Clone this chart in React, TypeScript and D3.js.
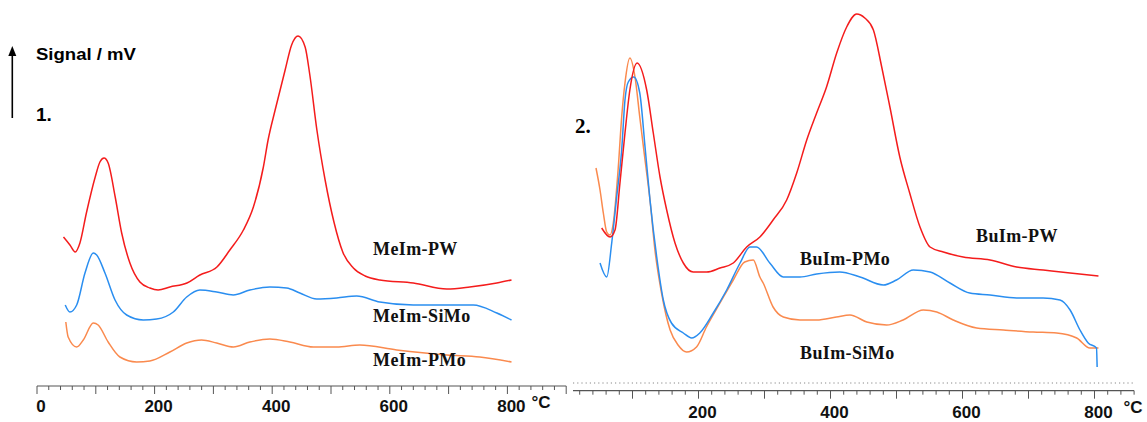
import React from "react";
import * as d3 from "d3";

// Panel 1 (MeIm) — temperature °C / signal (arbitrary mV, offset traces)
const meImPW_T = [45, 56, 65, 73, 84, 99, 107, 114, 121, 133, 144, 158, 175, 192, 206, 226, 255, 277, 306, 328, 351, 368, 385, 393, 405, 422, 433, 444, 456, 464, 476, 490, 505, 520, 538, 558, 583, 640, 697, 736, 782, 807];
const meImPW_S = [15.3, 14.5, 13.8, 14.7, 17.7, 21.3, 22.8, 23.2, 22.7, 19.3, 15.7, 12.7, 10.8, 10.2, 10.0, 10.3, 10.7, 11.5, 12.3, 14.0, 16.0, 18.3, 22.3, 25.0, 28.0, 32.0, 34.5, 35.4, 34.3, 31.5, 26.0, 21.0, 16.8, 13.8, 12.2, 11.4, 11.0, 10.7, 10.1, 10.3, 10.7, 11.0];
const meImSiMo_T = [48, 56, 67.5, 81.6, 95.8, 101.5, 115.6, 132.7, 152.5, 180.8, 203.5, 231.8, 254.6, 277, 305.6, 333.8, 362, 396, 424.6, 447, 475.7, 509.7, 543.7, 583, 640, 697, 742, 782, 807];
const meImSiMo_S = [8.5, 7.8, 8.5, 11.7, 13.7, 13.5, 11.7, 9.0, 7.5, 7.0, 7.1, 7.8, 9.3, 10.0, 9.8, 9.5, 10.0, 10.3, 10.2, 9.7, 9.1, 9.2, 9.4, 8.8, 8.5, 8.5, 8.5, 7.7, 7.0];
const meImPMo_T = [49, 53, 67.5, 78.7, 95.8, 104, 121, 141, 169.5, 192, 226, 254.6, 280, 305.6, 334, 362, 396, 430, 470, 509.7, 549, 611.7, 697, 753, 807];
const meImPMo_S = [6.8, 5.3, 4.3, 5.0, 6.7, 6.5, 4.8, 3.3, 2.8, 2.9, 3.8, 4.7, 5.0, 4.7, 4.3, 4.8, 5.1, 4.8, 4.3, 4.3, 4.5, 4.0, 3.5, 3.3, 2.8];

// Panel 2 (BuIm)
const buImPW_T = [53.3, 66, 73.5, 81, 88.6, 96, 107, 121.5, 131.5, 141.7, 151.8, 164.4, 177, 192, 212.4, 232.6, 252.7, 273, 293, 313, 333.6, 348.8, 364, 379, 394, 409.4, 424.5, 439.7, 452, 465, 477.6, 490, 505, 520, 535.6, 550.8, 571, 601, 641.7, 682, 722.4, 763, 806];
const buImPW_S = [16.2, 15.3, 16.0, 20.7, 25.7, 30.0, 32.7, 30.0, 25.7, 21.3, 18.0, 14.7, 12.7, 11.8, 11.8, 12.2, 12.7, 14.3, 15.3, 17.0, 19.0, 21.7, 25.0, 27.7, 30.3, 33.7, 36.3, 37.6, 37.2, 36.0, 32.3, 28.3, 23.3, 19.7, 16.3, 14.3, 13.8, 13.3, 13.0, 12.3, 12.0, 11.7, 11.4];
const buImPMo_T = [50.8, 61, 68.5, 76, 83.6, 88.6, 93.6, 102, 111, 119, 126.5, 136.7, 146.7, 159, 177, 189.7, 202, 222.4, 242.7, 263, 278, 288, 308, 328.5, 353.8, 379, 414, 444.7, 480, 500, 525.5, 550.8, 581, 611, 641.7, 682, 722, 747.7, 763, 778, 790.5, 803, 804];
const buImPMo_S = [12.7, 11.3, 14.7, 19.3, 24.0, 29.0, 30.8, 31.3, 29.7, 24.3, 19.0, 13.3, 9.0, 6.7, 5.7, 5.2, 5.7, 7.7, 10.0, 12.7, 14.3, 14.3, 12.7, 11.3, 11.3, 11.6, 11.8, 11.3, 10.5, 11.0, 12.0, 11.8, 10.7, 9.7, 9.5, 9.2, 9.2, 9.0, 8.0, 6.0, 4.7, 4.2, 2.3];
const buImSiMo_T = [44.7, 50.8, 55.8, 60.9, 65.9, 70.9, 78.5, 83.6, 88.6, 96, 103.8, 111, 119, 126.5, 134, 144, 157, 169, 182, 197, 212, 232.6, 252.7, 270, 283, 293, 298, 313, 328.5, 353.8, 379, 409, 429.5, 455, 485, 510, 540.6, 561, 586, 621.5, 662, 707, 742.7, 773, 793, 806];
const buImSiMo_S = [22.2, 20.0, 17.7, 15.8, 15.5, 16.7, 22.3, 27.3, 30.7, 33.2, 31.3, 27.3, 23.0, 19.0, 14.0, 9.7, 6.0, 4.5, 3.8, 4.3, 6.3, 8.7, 11.0, 12.8, 13.0, 11.3, 10.7, 8.3, 7.3, 7.0, 7.0, 7.3, 7.5, 6.8, 6.5, 7.0, 8.0, 7.8, 7.0, 6.2, 6.0, 5.8, 5.7, 5.2, 4.2, 4.2];

const axis1Labels = ["0", "200", "400", "600", "800"];
const axis2Labels = ["200", "400", "600", "800"];

const RED = "#f41c1c";
const BLUE = "#2a8ef0";
const ORANGE = "#fa8a4e";

const x1 = d3.scaleLinear().domain([0, 900]).range([37, 566.2]);
const x2 = d3.scaleLinear().domain([0, 800]).range([566.5, 1094.5]);
const y = d3.scaleLinear().domain([0, 38]).range([390, 10]);

function path(xs: d3.ScaleLinear<number, number>, T: number[], S: number[]) {
  const line = d3
    .line<number>()
    .x((_, i) => xs(T[i]))
    .y((_, i) => y(S[i]))
    .curve(d3.curveMonotoneX);
  return line(T) || "";
}

const sans = "'Liberation Sans', Arial, sans-serif";
const serif = "'Liberation Serif', 'Times New Roman', serif";

export default function App() {
  const ticks1 = d3.range(0, 901, 20);
  const ticks2 = d3.range(20, 861, 20);
  const axisY1 = 386;
  const axisY2 = 390.7;
  return (
    <svg width={1147} height={422} style={{ position: "absolute", left: 0, top: 0, background: "#fff" }}>
      {/* y arrow */}
      <line x1={12.3} y1={55} x2={12.3} y2={118} stroke="#000" strokeWidth={1.6} />
      <path d="M12.3,46 L8.3,56 L16.3,56 Z" fill="#000" />
      <text x={36} y={60} fontFamily={sans} fontWeight="bold" fontSize={17} textLength={100} lengthAdjust="spacingAndGlyphs">Signal / mV</text>
      <text x={36} y={121} fontFamily={sans} fontWeight="bold" fontSize={19}>1.</text>
      <text x={575} y={133} fontFamily={serif} fontWeight="bold" fontSize={21}>2.</text>

      {/* Left axis */}
      <line x1={x1(0)} x2={x1(900)} y1={axisY1} y2={axisY1} stroke="#555" strokeWidth={1.2} />
      {ticks1.map((t) => (
        <line key={t} x1={x1(t)} x2={x1(t)} y1={axisY1} y2={axisY1 + (t % 100 === 0 ? 8 : 4)} stroke="#555" strokeWidth={1} />
      ))}
      {axis1Labels.map((l) => (
        <text key={l} x={x1(+l) + 4} y={412} textAnchor="middle" fontFamily={sans} fontWeight="bold" fontSize={17} fill="#111">{l}</text>
      ))}
      <text x={531.5} y={408} fontFamily={sans} fontWeight="bold" fontSize={17} fill="#111">°C</text>

      {/* Right axis */}
      <line x1={573} x2={1134} y1={383} y2={383} stroke="#888" strokeWidth={1} strokeDasharray="1.2,3" />
      <line x1={573} x2={x2(860)} y1={axisY2} y2={axisY2} stroke="#555" strokeWidth={1.2} />
      {ticks2.map((t) => (
        <line key={t} x1={x2(t)} x2={x2(t)} y1={axisY2} y2={axisY2 + (t % 100 === 0 ? 8 : 4)} stroke="#555" strokeWidth={1} />
      ))}
      {axis2Labels.map((l) => (
        <text key={l} x={x2(+l) + 4} y={418} textAnchor="middle" fontFamily={sans} fontWeight="bold" fontSize={17} fill="#111">{l}</text>
      ))}
      <text x={1123.5} y={413} fontFamily={sans} fontWeight="bold" fontSize={17} fill="#111">°C</text>

      {/* Curves */}
      <g fill="none" strokeWidth={1.5} strokeLinejoin="round">
        <path d={path(x1, meImPMo_T, meImPMo_S)} stroke={ORANGE} />
        <path d={path(x1, meImSiMo_T, meImSiMo_S)} stroke={BLUE} />
        <path d={path(x1, meImPW_T, meImPW_S)} stroke={RED} />
        <path d={path(x2, buImSiMo_T, buImSiMo_S)} stroke={ORANGE} />
        <path d={path(x2, buImPMo_T, buImPMo_S)} stroke={BLUE} />
        <path d={path(x2, buImPW_T, buImPW_S)} stroke={RED} />
      </g>

      {/* Series labels */}
      <g fontFamily={serif} fontWeight="bold" fontSize={18} fill="#111" letterSpacing={0.4}>
        <text x={373} y={255}>MeIm-PW</text>
        <text x={373} y={322}>MeIm-SiMo</text>
        <text x={373} y={366}>MeIm-PMo</text>
        <text x={976} y={242}>BuIm-PW</text>
        <text x={800} y={265}>BuIm-PMo</text>
        <text x={800} y={359}>BuIm-SiMo</text>
      </g>
    </svg>
  );
}
